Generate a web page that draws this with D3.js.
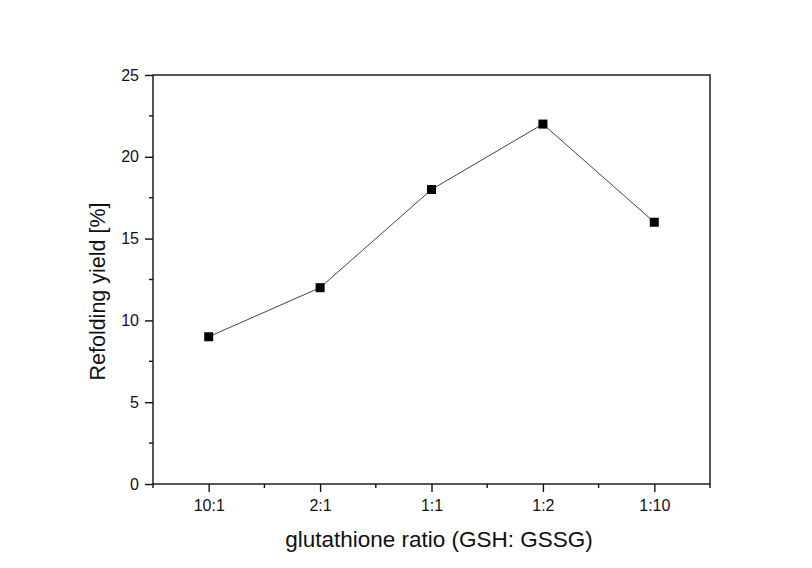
<!DOCTYPE html>
<html>
<head>
<meta charset="utf-8">
<script src="https://cdn.jsdelivr.net/npm/d3@7"></script>
<style>
  html, body { margin: 0; padding: 0; background: #fff; }
  svg { display: block; font-family: "Liberation Sans", Arial, sans-serif; }
  .tick text { font-size: 16px; fill: #111; font-family: "Liberation Sans", Arial, sans-serif; }
</style>
</head>
<body>
<svg id="chart" width="812" height="568"></svg>
<script>
// Refolding yield for each glutathione redox ratio
const ratios = ["10:1", "2:1", "1:1", "1:2", "1:10"];
const yieldPct = [9, 12, 18, 22, 16];
const yTickValues = [0, 5, 10, 15, 20, 25];
const yMinorValues = [2.5, 7.5, 12.5, 17.5, 22.5];
const xTitle = "glutathione ratio (GSH: GSSG)";
const yTitle = "Refolding yield [%]";

const svg = d3.select("#chart");
const plotL = 153, plotR = 710, plotT = 75, plotB = 484;

const x = d3.scalePoint().domain(ratios).range([plotL, plotR]).padding(0.5);
const y = d3.scaleLinear().domain([0, 25]).range([plotB, plotT]);

// frame (top and right sides carry no ticks)
svg.append("rect")
  .attr("x", plotL).attr("y", plotT)
  .attr("width", plotR - plotL).attr("height", plotB - plotT)
  .attr("fill", "none").attr("stroke", "#111").attr("stroke-width", 1.4);

// bottom axis: major ticks at categories
const xAxis = svg.append("g")
  .attr("transform", `translate(0,${plotB})`)
  .call(d3.axisBottom(x).tickSize(8).tickPadding(8));
xAxis.attr("font-size", null).attr("font-family", null);
xAxis.select(".domain").remove();
xAxis.selectAll("line").attr("stroke", "#111").attr("stroke-width", 1.4);

// minor ticks on category boundaries, including both edges
const xMinor = d3.range(ratios.length + 1).map(i => x(ratios[0]) + (i - 0.5) * x.step());
svg.append("g").selectAll("line").data(xMinor).join("line")
  .attr("x1", d => d).attr("x2", d => d)
  .attr("y1", plotB).attr("y2", plotB + 4)
  .attr("stroke", "#111").attr("stroke-width", 1.4);

// left axis
const yAxis = svg.append("g")
  .attr("transform", `translate(${plotL},0)`)
  .call(d3.axisLeft(y).tickValues(yTickValues).tickSize(8).tickPadding(6));
yAxis.attr("font-size", null).attr("font-family", null);
yAxis.select(".domain").remove();
yAxis.selectAll("line").attr("stroke", "#111").attr("stroke-width", 1.4);

svg.append("g").selectAll("line").data(yMinorValues).join("line")
  .attr("x1", plotL - 4).attr("x2", plotL)
  .attr("y1", d => y(d)).attr("y2", d => y(d))
  .attr("stroke", "#111").attr("stroke-width", 1.4);

// data line and square markers
const pts = ratios.map((r, i) => ({ r, v: yieldPct[i] }));
svg.append("path")
  .datum(pts)
  .attr("fill", "none")
  .attr("stroke", "#444")
  .attr("stroke-width", 1)
  .attr("d", d3.line().x(d => x(d.r)).y(d => y(d.v)));

const m = 9;
svg.append("g").selectAll("rect").data(pts).join("rect")
  .attr("x", d => x(d.r) - m / 2)
  .attr("y", d => y(d.v) - m / 2)
  .attr("width", m).attr("height", m)
  .attr("fill", "#000");

// axis titles
svg.append("text")
  .attr("x", 439).attr("y", 547)
  .attr("text-anchor", "middle")
  .style("font-size", "22.5px").attr("fill", "#111")
  .text(xTitle);

svg.append("text")
  .attr("transform", "translate(105,291.5) rotate(-90)")
  .attr("text-anchor", "middle")
  .style("font-size", "21.5px").attr("fill", "#111")
  .text(yTitle);
</script>
</body>
</html>
